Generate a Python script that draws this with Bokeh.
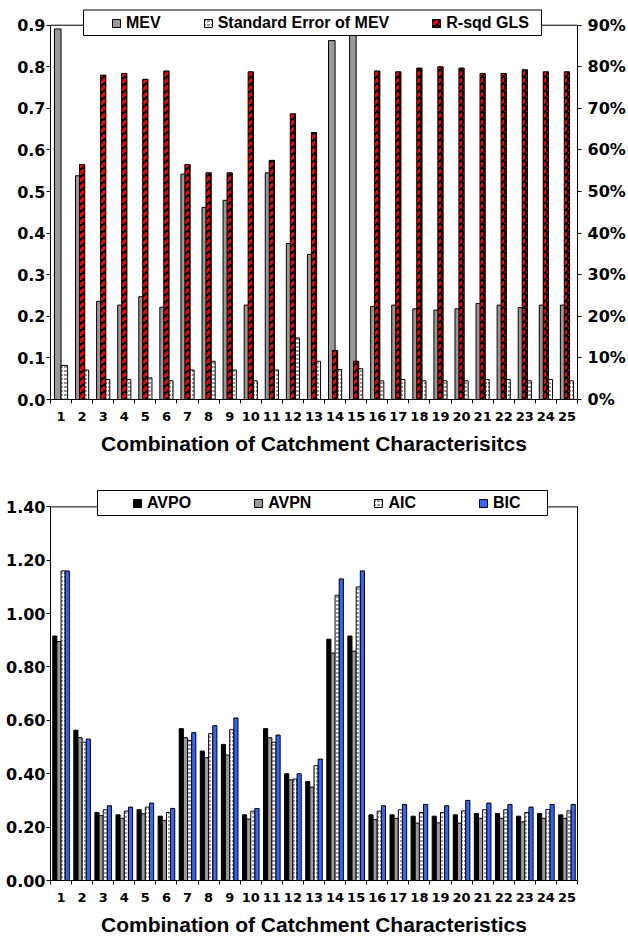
import numpy as np
from bokeh.plotting import figure
from bokeh.models import (Range1d, LinearAxis, FixedTicker, NumeralTickFormatter,
                          Legend, LegendItem, BoxAnnotation, Span)
from bokeh.layouts import column
from bokeh.embed import file_html
from bokeh.resources import INLINE

# ---------------- data ----------------
categories = [str(i) for i in range(1, 26)]

# top chart
mev = [0.891, 0.538, 0.236, 0.227, 0.247, 0.222, 0.542, 0.462, 0.479, 0.227,
       0.545, 0.375, 0.349, 0.863, 0.895, 0.224, 0.227, 0.218, 0.215, 0.218,
       0.231, 0.227, 0.221, 0.227, 0.227]
se_mev = [0.082, 0.071, 0.048, 0.048, 0.052, 0.045, 0.071, 0.092, 0.071, 0.045,
          0.071, 0.148, 0.092, 0.072, 0.074, 0.045, 0.048, 0.045, 0.045, 0.045,
          0.048, 0.048, 0.045, 0.048, 0.045]
rsq_gls = [None, 0.565, 0.780, 0.784, 0.770, 0.790, 0.565, 0.545, 0.545, 0.788,
           0.575, 0.687, 0.642, 0.118, 0.092, 0.790, 0.788, 0.797, 0.800, 0.797,
           0.784, 0.784, 0.793, 0.788, 0.788]
top_ticks = [0.0, 0.1, 0.2, 0.3, 0.4, 0.5, 0.6, 0.7, 0.8, 0.9]
top_max = 0.9

# bottom chart
avpo = [0.916, 0.563, 0.255, 0.246, 0.265, 0.241, 0.569, 0.485, 0.510, 0.246,
        0.569, 0.400, 0.371, 0.904, 0.916, 0.246, 0.246, 0.241, 0.241, 0.246,
        0.251, 0.251, 0.241, 0.251, 0.246]
avpn = [0.895, 0.535, 0.243, 0.233, 0.250, 0.225, 0.535, 0.460, 0.470, 0.230,
        0.535, 0.377, 0.350, 0.852, 0.859, 0.228, 0.233, 0.215, 0.216, 0.215,
        0.233, 0.233, 0.220, 0.233, 0.233]
aic = [1.160, 0.518, 0.265, 0.260, 0.275, 0.255, 0.525, 0.550, 0.565, 0.260,
       0.518, 0.380, 0.430, 1.069, 1.100, 0.260, 0.265, 0.255, 0.255, 0.261,
       0.265, 0.265, 0.255, 0.266, 0.261]
bic = [1.160, 0.530, 0.280, 0.275, 0.290, 0.270, 0.554, 0.580, 0.609, 0.270,
       0.545, 0.400, 0.455, 1.130, 1.160, 0.280, 0.285, 0.285, 0.280, 0.300,
       0.290, 0.285, 0.275, 0.285, 0.285]
bottom_ticks = [0.0, 0.2, 0.4, 0.6, 0.8, 1.0, 1.2, 1.4]
bottom_max = 1.4

# ---------------- helpers ----------------
n = len(categories)
x = np.arange(1, n + 1, dtype=float)
cat_ticks = list(x)
cat_bounds = list(np.arange(0.5, n + 1.0, 1.0))
overrides = {int(v): c for v, c in zip(x, categories)}

TICK_FONT = "DejaVu Sans"
TEXT_FONT = "Liberation Sans"


def style_x(ax, title):
    ax.ticker = FixedTicker(ticks=cat_ticks, minor_ticks=cat_bounds)
    ax.major_label_overrides = overrides
    ax.major_tick_in = 0
    ax.major_tick_out = 0
    ax.minor_tick_in = 0
    ax.minor_tick_out = 4
    ax.minor_tick_line_color = "black"
    ax.axis_line_color = "black"
    ax.major_label_text_font = TICK_FONT
    ax.major_label_text_font_style = "bold"
    ax.major_label_text_font_size = "13px"
    ax.major_label_text_color = "black"
    ax.major_label_standoff = 8
    ax.axis_label = title
    ax.axis_label_text_font = TEXT_FONT
    ax.axis_label_text_font_style = "bold"
    ax.axis_label_text_font_size = "21px"
    ax.axis_label_text_color = "black"
    ax.axis_label_standoff = 8


def style_y(ax, ticks, fmt, standoff, top):
    ax.ticker = FixedTicker(ticks=ticks)
    ax.formatter = NumeralTickFormatter(format=fmt)
    ax.bounds = (0, top)
    ax.major_tick_in = 0
    ax.major_tick_out = 4
    ax.major_tick_line_color = "black"
    ax.minor_tick_line_color = None
    ax.axis_line_color = "black"
    ax.major_label_text_font = TICK_FONT
    ax.major_label_text_font_style = "bold"
    ax.major_label_text_font_size = "16px"
    ax.major_label_text_color = "black"
    ax.major_label_standoff = standoff


def make_fig(border_top, border_bottom, border_right, y_end):
    p = figure(width=628, height=470, x_range=Range1d(0.5, n + 0.5),
               y_range=Range1d(0, y_end), output_backend="svg",
               toolbar_location=None, min_border_left=50,
               min_border_right=border_right, min_border_top=border_top,
               min_border_bottom=border_bottom)
    p.xgrid.visible = False
    p.ygrid.visible = False
    p.outline_line_color = None
    p.background_fill_color = "white"
    p.border_fill_color = "white"
    return p


# ---------------- top chart ----------------
# frame extends a little above the 0.9 line so the legend box can straddle it
p1 = make_fig(6, 71, 50, 0.945)
p1.extra_y_ranges = {"pct": Range1d(0, 0.945)}

wp = 0.3125
r_mev = p1.vbar(x=x - wp / 2, top=mev, width=wp, fill_color="#999999",
                line_color="black", line_width=1)
r_se = p1.vbar(x=x + wp / 2, top=se_mev, width=wp, fill_color="white",
               line_color="black", line_width=1, hatch_pattern="horizontal_dash",
               hatch_color="black", hatch_scale=4, hatch_weight=1, hatch_alpha=0.8)
rsq_arr = np.array([np.nan if v is None else v for v in rsq_gls], dtype=float)
r_rsq = p1.vbar(x=x, top=rsq_arr, width=0.25, y_range_name="pct",
                fill_color="black", line_color="black", line_width=1,
                hatch_pattern="right_diagonal_dash", hatch_color="#FF0000",
                hatch_scale=7, hatch_weight=3.2)

style_x(p1.xaxis[0], "Combination of Catchment Characterisitcs")
style_y(p1.yaxis[0], top_ticks, "0.0", 1, top_max)
right_ax = LinearAxis(y_range_name="pct")
p1.add_layout(right_ax, "right")
style_y(right_ax, top_ticks, "0%", 6, top_max)

p1.add_layout(Span(location=top_max, dimension="width", line_color="black",
                   line_width=1))
box1 = BoxAnnotation(left=83, right=541, top=9.5, bottom=35,
                     left_units="canvas", right_units="canvas",
                     top_units="canvas", bottom_units="canvas",
                     fill_color="white", fill_alpha=1, line_color="black",
                     line_width=1, line_alpha=1)
p1.add_layout(box1)
leg1 = Legend(items=[LegendItem(label="MEV", renderers=[r_mev]),
                     LegendItem(label="Standard Error of MEV", renderers=[r_se]),
                     LegendItem(label="R-sqd GLS", renderers=[r_rsq])],
              orientation="horizontal", location=(61, 367.5), padding=0,
              spacing=42, glyph_width=10, glyph_height=10, label_standoff=5,
              label_text_font=TEXT_FONT, label_text_font_style="bold",
              label_text_font_size="16px", label_text_color="black",
              border_line_color=None, background_fill_alpha=0, margin=0)
p1.add_layout(leg1)

# ---------------- bottom chart ----------------
p2 = make_fig(15, 60, 19, 1.48)
wb = 0.197
offs = [-1.5 * wb, -0.5 * wb, 0.5 * wb, 1.5 * wb]
r_avpo = p2.vbar(x=x + offs[0], top=avpo, width=wb, fill_color="black",
                 line_color="black", line_width=1)
r_avpn = p2.vbar(x=x + offs[1], top=avpn, width=wb, fill_color="#999999",
                 line_color="black", line_width=1)
r_aic = p2.vbar(x=x + offs[2], top=aic, width=wb, fill_color="white",
                line_color="black", line_width=1, hatch_pattern="horizontal_dash",
                hatch_color="black", hatch_scale=4, hatch_weight=1, hatch_alpha=0.8)
r_bic = p2.vbar(x=x + offs[3], top=bic, width=wb, fill_color="#3366FF",
                line_color="black", line_width=1)

style_x(p2.xaxis[0], "Combination of Catchment Characteristics")
style_y(p2.yaxis[0], bottom_ticks, "0.00", 1, bottom_max)
# right border of the plot area (line only)
rb = LinearAxis(ticker=FixedTicker(ticks=[]), bounds=(0, bottom_max),
                axis_line_color="black", major_tick_line_color=None,
                minor_tick_line_color=None)
p2.add_layout(rb, "right")

p2.add_layout(Span(location=bottom_max, dimension="width", line_color="black",
                   line_width=1))
box2 = BoxAnnotation(left=97, right=547, top=20, bottom=45,
                     left_units="canvas", right_units="canvas",
                     top_units="canvas", bottom_units="canvas",
                     fill_color="white", fill_alpha=1, line_color="black",
                     line_width=1, line_alpha=1)
p2.add_layout(box2)
leg2 = Legend(items=[LegendItem(label="AVPO", renderers=[r_avpo]),
                     LegendItem(label="AVPN", renderers=[r_avpn]),
                     LegendItem(label="AIC", renderers=[r_aic]),
                     LegendItem(label="BIC", renderers=[r_bic])],
              orientation="horizontal", location=(82, 368.5), padding=0,
              spacing=62, glyph_width=10, glyph_height=10, label_standoff=5,
              label_text_font=TEXT_FONT, label_text_font_style="bold",
              label_text_font_size="16px", label_text_color="black",
              border_line_color=None, background_fill_alpha=0, margin=0)
p2.add_layout(leg2)

layout = column(p1, p2, spacing=0)
open("out.html", "w").write(file_html(layout, INLINE))
